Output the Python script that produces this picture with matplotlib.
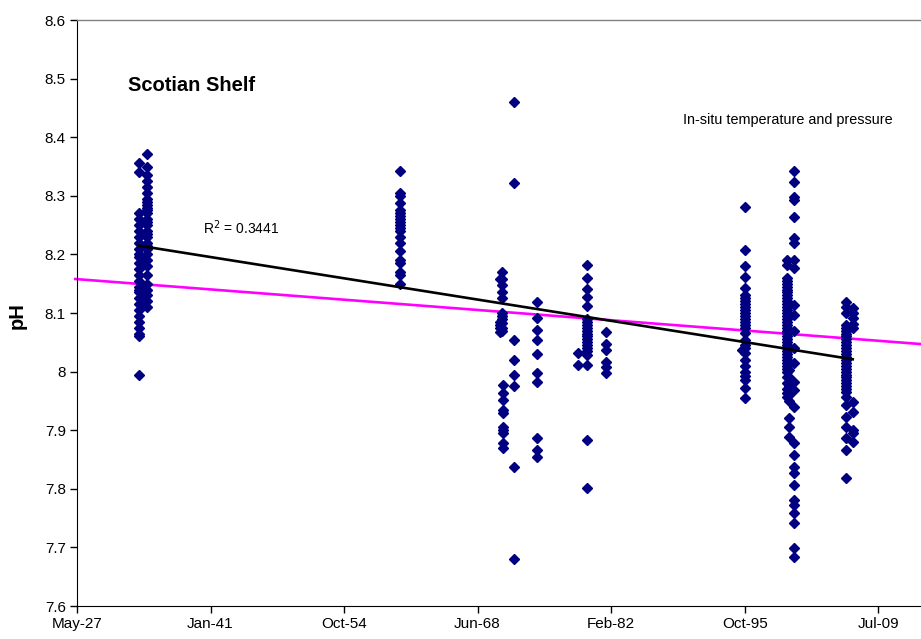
import numpy as np
import pandas as pd
import matplotlib
matplotlib.use('Agg')
import matplotlib.pyplot as plt
import matplotlib.dates as mdates

plt.rcParams['font.family'] = ['Liberation Sans', 'DejaVu Sans']

# sampling date (decimal year) of each cruise column and its pH values
cruise_years = [1933.7, 1934.5, 1960.5, 1970.7, 1970.9, 1971.0, 1972.2, 1974.5,
                1978.7, 1979.7, 1981.6, 1995.5, 1995.9, 2000.2, 2000.4, 2000.9,
                2006.2, 2006.9]

ph_1933 = [8.356, 8.34, 8.27, 8.26, 8.25, 8.24, 8.23, 8.22, 8.21, 8.20, 8.195, 8.185,
           8.175, 8.165, 8.155, 8.145, 8.14, 8.135, 8.125, 8.115, 8.105, 8.095,
           8.085, 8.075, 8.065, 8.06, 7.995]
ph_1934 = [8.372, 8.35, 8.335, 8.325, 8.315, 8.305, 8.295, 8.29, 8.285, 8.28, 8.275,
           8.27, 8.26, 8.255, 8.25, 8.24, 8.235, 8.23, 8.22, 8.215, 8.21, 8.20, 8.19,
           8.18, 8.165, 8.15, 8.14, 8.13, 8.12, 8.11]
ph_1960 = [8.342, 8.305, 8.30, 8.288, 8.275, 8.27, 8.265, 8.26, 8.255, 8.25, 8.245,
           8.24, 8.23, 8.22, 8.205, 8.19, 8.185, 8.17, 8.165, 8.15]
ph_1970a = [8.158, 8.085, 8.08, 8.075, 8.068]
ph_1970b = [8.17, 8.158, 8.148, 8.136, 8.126, 8.10, 8.095, 8.09, 8.083, 8.074, 8.07]
ph_1971 = [7.977, 7.963, 7.952, 7.934, 7.929, 7.905, 7.90, 7.895, 7.878, 7.870]
ph_1972 = [8.46, 8.322, 8.054, 8.02, 7.994, 7.975, 7.837, 7.68]
ph_1974 = [8.119, 8.091, 8.071, 8.054, 8.030, 7.998, 7.983, 7.887, 7.866, 7.854]
ph_1978 = [8.032, 8.011]
ph_1979 = [8.182, 8.160, 8.141, 8.127, 8.112, 8.09, 8.085, 8.08, 8.075, 8.07, 8.065,
           8.06, 8.055, 8.05, 8.045, 8.04, 8.035, 8.028, 8.011, 7.883, 7.801]
ph_1981 = [8.068, 8.047, 8.037, 8.016, 8.008, 7.998]
ph_1995a = [8.037]
ph_1995 = [8.281, 8.207, 8.180, 8.161, 8.143, 8.131, 8.125, 8.12, 8.115, 8.11, 8.105,
           8.10, 8.095, 8.09, 8.085, 8.08, 8.075, 8.066, 8.054, 8.045, 8.04, 8.032,
           8.020, 8.01, 8.0, 7.993, 7.986, 7.972, 7.955]
ph_2000a = [8.19, 8.182, 8.16, 8.155, 8.15, 8.145, 8.14, 8.135, 8.13, 8.125, 8.12,
            8.115, 8.11, 8.105, 8.10, 8.095, 8.09, 8.085, 8.08, 8.075, 8.07, 8.066,
            8.06, 8.055, 8.05, 8.045, 8.04, 8.035, 8.03, 8.025, 8.02, 8.015, 8.01,
            8.005, 8.0, 7.99, 7.98, 7.97, 7.963, 7.957]
ph_2000b = [8.003, 7.99, 7.975, 7.96, 7.95, 7.921, 7.905, 7.888]
ph_2001 = [8.342, 8.324, 8.298, 8.293, 8.264, 8.228, 8.22, 8.19, 8.177, 8.114, 8.097,
           8.07, 8.040, 8.015, 7.983, 7.969, 7.940, 7.879, 7.858, 7.837, 7.827, 7.806,
           7.781, 7.772, 7.759, 7.742, 7.699, 7.684]
ph_2006a = [8.119, 8.11, 8.10, 8.08, 8.075, 8.07, 8.065, 8.06, 8.055, 8.05, 8.045,
            8.04, 8.035, 8.03, 8.025, 8.02, 8.015, 8.01, 8.005, 8.0, 7.995, 7.99,
            7.985, 7.98, 7.975, 7.97, 7.965, 7.957, 7.943, 7.923, 7.905, 7.887,
            7.866, 7.818]
ph_2006b = [8.108, 8.10, 8.092, 8.082, 8.074, 7.948, 7.931, 7.90, 7.895, 7.88]

cruise_ph = [ph_1933, ph_1934, ph_1960, ph_1970a, ph_1970b, ph_1971, ph_1972, ph_1974,
             ph_1978, ph_1979, ph_1981, ph_1995a, ph_1995, ph_2000a, ph_2000b, ph_2001,
             ph_2006a, ph_2006b]

# linear fit through the data (endpoints) and reference (magenta) line
trend_years = [1933.7, 2006.9]
trend_ph = [8.215, 8.021]
ref_years = [1927.2, 2013.9]
ref_ph = [8.158, 8.047]

# excel style date ticks
tick_dates = ['1927-05-18', '1941-01-24', '1954-10-03', '1968-06-11',
              '1982-02-18', '1995-10-28', '2009-07-06']
x_end = 2013.9


def dec_year(y):
    year = int(y)
    return pd.Timestamp(year, 1, 1) + pd.Timedelta(days=(y - year) * 365.25)


xs = []
ys = []
for yr, vals in zip(cruise_years, cruise_ph):
    xs += [dec_year(yr)] * len(vals)
    ys += vals

fig = plt.figure(figsize=(9.21, 6.39), dpi=100)
ax = fig.add_axes([77 / 921, 33 / 639, 844 / 921, 586 / 639])

ax.plot(xs, ys, linestyle='none', marker='D', markersize=5.3, color='#000080',
        markeredgecolor='#000080', zorder=3)
ax.plot([dec_year(y) for y in trend_years], trend_ph, color='black', linewidth=1.9, zorder=4)
ax.plot([dec_year(y) for y in ref_years], ref_ph, color='#FF00FF', linewidth=1.9,
        zorder=2, clip_on=False)

ax.set_xlim(pd.Timestamp(tick_dates[0]), dec_year(x_end))
ax.set_ylim(7.6, 8.6)
ax.set_yticks(np.arange(7.6, 8.61, 0.1))
ax.set_yticklabels(['7.6', '7.7', '7.8', '7.9', '8', '8.1', '8.2', '8.3', '8.4', '8.5', '8.6'])
ax.set_xticks([pd.Timestamp(d) for d in tick_dates])
ax.xaxis.set_major_formatter(mdates.DateFormatter('%b-%y'))
ax.tick_params(axis='both', direction='out', length=5, width=1, labelsize=11, pad=3)

ax.spines['right'].set_visible(False)
ax.spines['top'].set_color('#808080')
ax.spines['top'].set_linewidth(1)

fig.text(17 / 921, 1 - 316 / 639, 'pH', rotation=90, fontsize=14.5, fontweight='bold',
         ha='center', va='center')
ax.text(dec_year(1932.6), 8.489, 'Scotian Shelf', fontsize=14.5, fontweight='bold',
        ha='left', va='center')
ax.text(0.718, 0.829, 'In-situ temperature and pressure', transform=ax.transAxes,
        fontsize=10.4, ha='left', va='center')
ax.text(dec_year(1940.3), 8.245, 'R$^2$ = 0.3441', fontsize=10, ha='left', va='center')

fig.savefig('out.png', dpi=100)
